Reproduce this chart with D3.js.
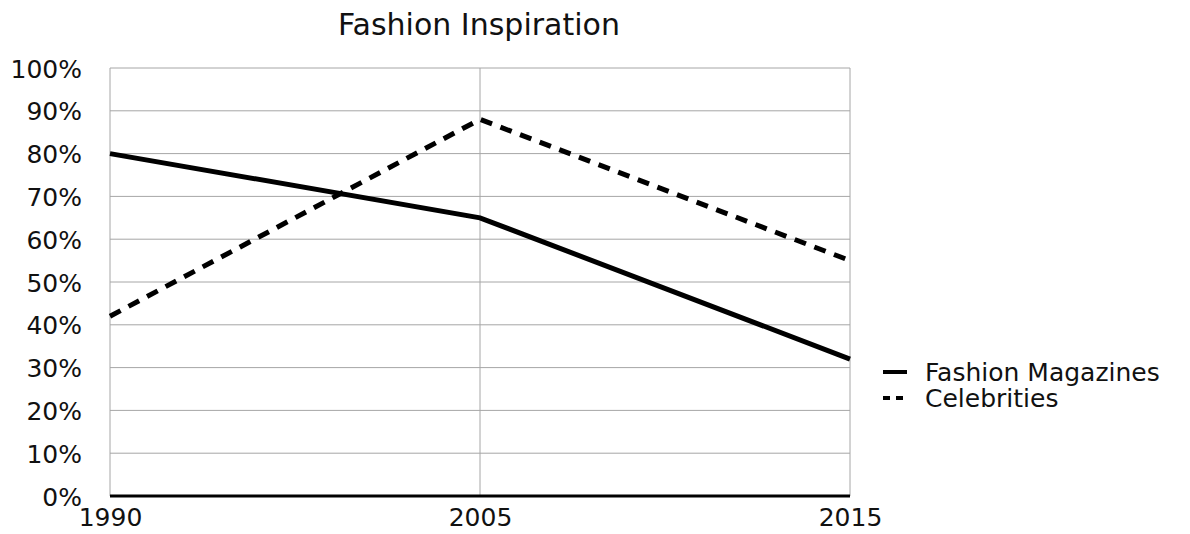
<!DOCTYPE html>
<html>
<head>
<meta charset="utf-8">
<script src="https://cdn.jsdelivr.net/npm/d3@7"></script>
<style>
body { margin:0; background:#fff; }
text { font-family: "DejaVu Sans", "Noto Sans", sans-serif; fill:#111; }
</style>
</head>
<body>
<svg id="chart"></svg>
<script>
var years = ["1990", "2005", "2015"]
var magazines = [0.80, 0.65, 0.32]
var celebrities = [0.42, 0.88, 0.55]
var yTicks = [0, 0.1, 0.2, 0.3, 0.4, 0.5, 0.6, 0.7, 0.8, 0.9, 1.0]
var seriesNames = ["Fashion Magazines", "Celebrities"]

var screen = {width:1190, height:534}
var margins = {top:68, left:110, right:340, bottom:38}
var width = screen.width - margins.left - margins.right
var height = screen.height - margins.top - margins.bottom

var svg = d3.select("#chart")
    .attr("width", screen.width)
    .attr("height", screen.height)

var xScale = d3.scalePoint().domain(years).range([0, width])
var yScale = d3.scaleLinear().domain([0, 1]).range([height, 0])

var g = svg.append("g")
    .attr("transform", "translate(" + margins.left + "," + margins.top + ")")

// horizontal grid
g.selectAll(".hgrid")
    .data(yTicks)
    .enter()
    .append("line")
    .attr("x1", 0).attr("x2", width)
    .attr("y1", function(d){ return yScale(d) })
    .attr("y2", function(d){ return yScale(d) })
    .attr("stroke", "#a6a6a6").attr("stroke-width", 1)

// vertical grid
g.selectAll(".vgrid")
    .data(years)
    .enter()
    .append("line")
    .attr("x1", function(d){ return xScale(d) })
    .attr("x2", function(d){ return xScale(d) })
    .attr("y1", 0).attr("y2", height)
    .attr("stroke", "#a6a6a6").attr("stroke-width", 1)

// y axis labels
var yAxis = d3.axisLeft(yScale).tickValues(yTicks).tickFormat(d3.format(".0%")).tickSize(0).tickPadding(28)
var ya = g.append("g").call(yAxis)
ya.select(".domain").remove()
ya.selectAll("text").style("font-size", "25px").attr("dy", "0.36em")

// x axis labels
var xAxis = d3.axisBottom(xScale).tickSize(0).tickPadding(12)
var xa = g.append("g").attr("transform", "translate(0," + height + ")").call(xAxis)
xa.select(".domain").remove()
xa.selectAll("text").style("font-size", "25px").attr("dy", "0.72em")

// bottom axis line
g.append("line")
    .attr("x1", 0).attr("x2", width)
    .attr("y1", height).attr("y2", height)
    .attr("stroke", "#000").attr("stroke-width", 3)

var line = d3.line()
    .x(function(d, i){ return xScale(years[i]) })
    .y(function(d){ return yScale(d) })

g.append("path")
    .attr("d", line(magazines))
    .attr("fill", "none").attr("stroke", "#000").attr("stroke-width", 5)

g.append("path")
    .attr("d", line(celebrities))
    .attr("fill", "none").attr("stroke", "#000").attr("stroke-width", 5)
    .attr("stroke-dasharray", "12,9")

// title
svg.append("text")
    .attr("x", 479).attr("y", 35)
    .attr("text-anchor", "middle")
    .style("font-size", "30px")
    .text("Fashion Inspiration")

// legend
var legend = svg.append("g").attr("transform", "translate(883,372)")
seriesNames.forEach(function(name, i){
    legend.append("line")
        .attr("x1", 0).attr("x2", 24)
        .attr("y1", i * 26).attr("y2", i * 26)
        .attr("stroke", "#000").attr("stroke-width", 4)
        .attr("stroke-dasharray", i == 1 ? "7,6" : null)
    legend.append("text")
        .attr("x", 42).attr("y", i * 26)
        .attr("dy", "0.36em")
        .style("font-size", "25px")
        .text(name)
})
</script>
</body>
</html>
